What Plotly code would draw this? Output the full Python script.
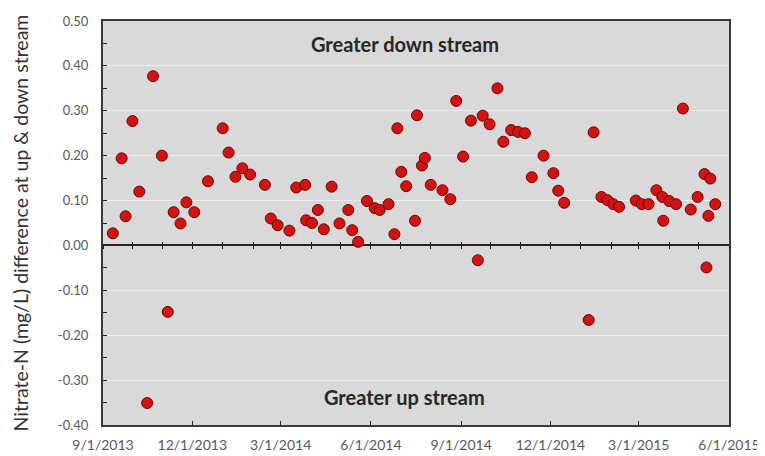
import plotly.graph_objects as go

# ---- data ----
dates = [
    "2013-09-11", "2013-09-20", "2013-09-24", "2013-10-01", "2013-10-08", "2013-10-16",
    "2013-10-22", "2013-10-31", "2013-11-06", "2013-11-12", "2013-11-19", "2013-11-25",
    "2013-12-03", "2013-12-17", "2014-01-01", "2014-01-07", "2014-01-14", "2014-01-21",
    "2014-01-29", "2014-02-13", "2014-02-19", "2014-02-26", "2014-03-10", "2014-03-17",
    "2014-03-26", "2014-03-27", "2014-04-02", "2014-04-08", "2014-04-14", "2014-04-22",
    "2014-04-30", "2014-05-09", "2014-05-13", "2014-05-19", "2014-05-28", "2014-06-05",
    "2014-06-10", "2014-06-19", "2014-06-25", "2014-06-28", "2014-07-02", "2014-07-07",
    "2014-07-16", "2014-07-18", "2014-07-23", "2014-07-26", "2014-08-01", "2014-08-13",
    "2014-08-21", "2014-08-27", "2014-09-03", "2014-09-11", "2014-09-18", "2014-09-23",
    "2014-09-30", "2014-10-08", "2014-10-14", "2014-10-22", "2014-10-29", "2014-11-05",
    "2014-11-12", "2014-11-24", "2014-12-04", "2014-12-09", "2014-12-15", "2015-01-09",
    "2015-01-14", "2015-01-22", "2015-01-28", "2015-02-03", "2015-02-09", "2015-02-26",
    "2015-03-04", "2015-03-11", "2015-03-19", "2015-03-25", "2015-03-26", "2015-04-01",
    "2015-04-08", "2015-04-15", "2015-04-23", "2015-04-30", "2015-05-07", "2015-05-09",
    "2015-05-11", "2015-05-13", "2015-05-18",
]
diff = [
    0.027, 0.194, 0.065, 0.277, 0.120, -0.351,
    0.377, 0.200, -0.148, 0.074, 0.049, 0.096,
    0.074, 0.143, 0.261, 0.207, 0.153, 0.172,
    0.158, 0.135, 0.060, 0.045, 0.033, 0.129,
    0.135, 0.056, 0.050, 0.079, 0.036, 0.131,
    0.049, 0.079, 0.034, 0.008, 0.099, 0.083,
    0.079, 0.092, 0.025, 0.261, 0.164, 0.132,
    0.055, 0.290, 0.178, 0.195, 0.135, 0.123,
    0.103, 0.322, 0.198, 0.278, -0.033, 0.289,
    0.270, 0.350, 0.231, 0.257, 0.253, 0.250,
    0.152, 0.200, 0.161, 0.122, 0.095, -0.166,
    0.252, 0.108, 0.101, 0.092, 0.086, 0.100,
    0.092, 0.092, 0.123, 0.108, 0.055, 0.099,
    0.092, 0.305, 0.080, 0.108, 0.159, -0.049,
    0.066, 0.149, 0.092,
]

x_tickvals = ["2013-09-01", "2013-12-01", "2014-03-01", "2014-06-01",
              "2014-09-01", "2014-12-01", "2015-03-01", "2015-06-01"]
x_ticktext = ["9/1/2013", "12/1/2013", "3/1/2014", "6/1/2014",
              "9/1/2014", "12/1/2014", "3/1/2015", "6/1/2015"]
y_tickvals = [0.5, 0.4, 0.3, 0.2, 0.1, 0.0, -0.1, -0.2, -0.3, -0.4]
y_ticktext = ["0.50", "0.40", "0.30", "0.20", "0.10", "0.00",
              "-0.10", "-0.20", "-0.30", "-0.40"]
x_range = ["2013-09-01", "2015-06-01"]
y_range = [-0.4, 0.5]

y_title = "Nitrate-N (mg/L) difference at up &amp; down stream"
label_down = "Greater down stream"
label_up = "Greater up stream"

# ---- figure ----
fig = go.Figure()
fig.add_trace(go.Scatter(
    x=dates, y=diff, mode="markers",
    marker=dict(size=11, color="#d01414", line=dict(color="#7a0000", width=1)),
    showlegend=False,
))
# empty traces so the monthly tick axes on the zero line are drawn
fig.add_trace(go.Scatter(x=[], y=[], xaxis="x2", showlegend=False))
fig.add_trace(go.Scatter(x=[], y=[], xaxis="x3", showlegend=False))

zero_pos = (0 - y_range[0]) / (y_range[1] - y_range[0])
font_family = "Lato, 'Noto Sans', sans-serif"

# page body adds an 8px offset, so the figure is 8px smaller than the window
fig.update_layout(
    width=757, height=448,
    margin=dict(l=95, r=36, t=13, b=31, autoexpand=False),
    paper_bgcolor="white",
    plot_bgcolor="#d9d9d9",
    font=dict(family=font_family, color="#404040"),
    xaxis=dict(
        type="date", range=x_range, automargin=False,
        tickmode="array", tickvals=x_tickvals, ticktext=x_ticktext,
        ticks="inside", ticklen=4, tickcolor="#262626",
        tickfont=dict(size=14, color="#595959"),
        ticklabelstandoff=6,
        showgrid=False, zeroline=False,
        showline=True, linecolor="#3a3a3a", linewidth=2, mirror=True,
    ),
    xaxis2=dict(
        type="date", overlaying="x", matches="x", anchor="free",
        position=zero_pos, side="bottom", automargin=False,
        tickmode="linear", tick0="2013-09-01", dtick="M1",
        ticks="outside", ticklen=3, tickcolor="#1a1a1a", tickwidth=1,
        showticklabels=False, showgrid=False, zeroline=False, showline=False,
    ),
    xaxis3=dict(
        type="date", overlaying="x", matches="x", anchor="free",
        position=zero_pos, side="bottom", automargin=False,
        tickmode="linear", tick0="2013-09-01", dtick="M1",
        ticks="inside", ticklen=3, tickcolor="#1a1a1a", tickwidth=1,
        showticklabels=False, showgrid=False, zeroline=False, showline=False,
    ),
    yaxis=dict(
        range=y_range, automargin=False,
        tickmode="array", tickvals=y_tickvals, ticktext=y_ticktext,
        ticks="inside", ticklen=4, tickcolor="#262626",
        minor=dict(dtick=0.05, ticks="inside", ticklen=4, tickcolor="#262626", showgrid=False),
        tickfont=dict(size=13, color="#595959"),
        ticklabelstandoff=10,
        showgrid=True, gridcolor="#ebebeb", gridwidth=1,
        zeroline=True, zerolinecolor="#262626", zerolinewidth=1.5,
        showline=True, linecolor="#3a3a3a", linewidth=2, mirror=True,
        title=dict(text=y_title, font=dict(size=19.5, color="#333333"), standoff=24),
    ),
    annotations=[
        dict(text="<b>" + label_down + "</b>", xref="paper", yref="y",
             x=0.482, y=0.449, showarrow=False,
             font=dict(size=20, color="#262626", family=font_family)),
        dict(text="<b>" + label_up + "</b>", xref="paper", yref="y",
             x=0.482, y=-0.338, showarrow=False,
             font=dict(size=20, color="#262626", family=font_family)),
    ],
)

fig.write_html("out.html")
